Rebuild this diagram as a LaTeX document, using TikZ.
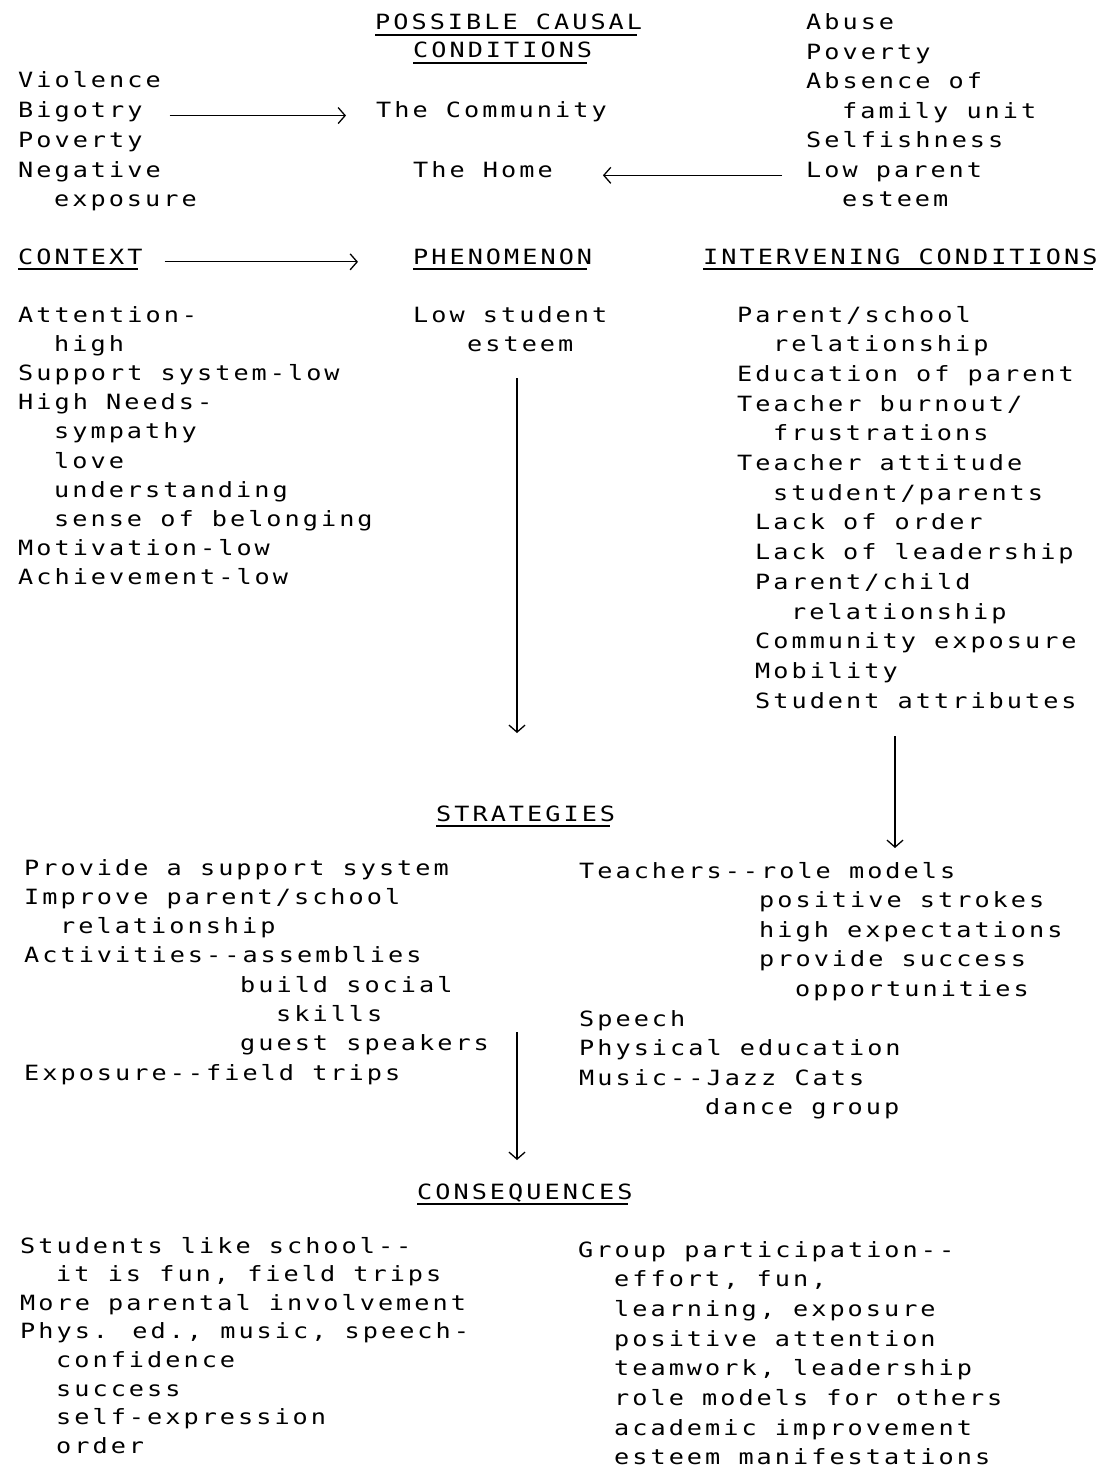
\documentclass[tikz,border=0pt]{standalone}
\usepackage{fontspec}
\newfontfamily\typewriter{DejaVu Sans Mono}[FakeStretch=1.2,LetterSpace=14.4,Ligatures=TeXOff]
\usetikzlibrary{arrows.meta}

\begin{document}
\begin{tikzpicture}[x=1pt,y=-1pt,
    %
    txt/.style={anchor=base west, inner sep=0pt},
    rule/.style={line width=1.1pt},
    flow/.style={-{Straight Barb[length=7pt,width=16pt]}, line width=1.3pt}]
    \tikzstyle{every node}=[font=\typewriter\fontsize{21}{29}\selectfont]
    \useasboundingbox (0,0) rectangle (1102,1479);

    % headings
    \node[txt] (pcc1) at (375,30) {POSSIBLE CAUSAL};
    \node[txt] (pcc2) at (413,58) {CONDITIONS};
    \node[txt] (context) at (18,264) {CONTEXT};
    \node[txt] (phen) at (413,264) {PHENOMENON};
    \node[txt] (interv) at (703,264) {INTERVENING CONDITIONS};
    \node[txt] (strat) at (436,821) {STRATEGIES};
    \node[txt] (conseq) at (417,1199) {CONSEQUENCES};
    \foreach \h in {pcc1,pcc2,context,phen,interv,strat,conseq}
        \draw[rule] ([yshift=-5pt]\h.base west) -- ([xshift=-5pt,yshift=-5pt]\h.base east);

    % possible causal conditions
    \foreach \dx/\t [count=\i from 0] in {0/Violence, 0/Bigotry, 0/Poverty, 0/Negative, 2/exposure}
        \node[txt] (comm\i) at (18+\dx*18, 88+\i*29.7) {\t};
    \node[txt] (community) at (376,117.7) {The Community};
    \node[txt] (home) at (413,177.5) {The Home};
    \foreach \dx/\t [count=\i from 0] in {0/Abuse, 0/Poverty, 0/{Absence of}, 2/{family unit},
            0/Selfishness, 0/{Low parent}, 2/esteem}
        \node[txt] (fam\i) at (806+\dx*18, 30+\i*29.5) {\t};

    % context
    \foreach \dx/\t [count=\i from 0] in {0/Attention-, 2/high, 0/{Support system-low}, 0/{High Needs-},
            2/sympathy, 2/love, 2/understanding, 2/{sense of belonging}, 0/Motivation-low, 0/Achievement-low}
        \node[txt] (ctx\i) at (18+\dx*18, 322+\i*29.2) {\t};

    % phenomenon
    \node[txt] (lowstudent) at (413,322) {Low student};
    \node[txt] (esteem) at (467,351) {esteem};

    % intervening conditions
    \foreach \dx/\t [count=\i from 0] in {0/{Parent/school}, 2/relationship, 0/{Education of parent},
            0/{Teacher burnout/}, 2/frustrations, 0/{Teacher attitude}, 2/{student/parents},
            1/{Lack of order}, 1/{Lack of leadership}, 1/{Parent/child}, 3/relationship,
            1/{Community exposure}, 1/Mobility, 1/{Student attributes}}
        \node[txt] (int\i) at (737+\dx*18, 322+\i*29.7) {\t};

    % strategies
    \foreach \dx/\t [count=\i from 0] in {0/{Provide a support system}, 0/{Improve parent/school},
            2/relationship, 0/{Activities--assemblies}, 12/{build social}, 14/skills,
            12/{guest speakers}, 0/{Exposure--field trips}}
        \node[txt] (sl\i) at (24+\dx*18, 875+\i*29.3) {\t};
    \foreach \dx/\t [count=\i from 0] in {0/{Teachers--role models}, 10/{positive strokes},
            10/{high expectations}, 10/{provide success}, 12/opportunities, 0/Speech,
            0/{Physical education}, 0/{Music--Jazz Cats}, 7/{dance group}}
        \node[txt] (sr\i) at (579+\dx*18, 878+\i*29.6) {\t};

    % consequences
    \foreach \dx/\t [count=\i from 0] in {0/{Students like school--}, 2/{it is fun, field trips},
            0/{More parental involvement}, 0/{Phys. ed., music, speech-}, 2/confidence,
            2/success, 2/self-expression, 2/order}
        \node[txt] (cl\i) at (20+\dx*18, 1253+\i*28.6) {\t};
    \foreach \dx/\t [count=\i from 0] in {0/{Group participation--}, 2/{effort, fun,},
            2/{learning, exposure}, 2/{positive attention}, 2/{teamwork, leadership},
            2/{role models for others}, 2/{academic improvement}, 2/{esteem manifestations}}
        \node[txt] (cr\i) at (578+\dx*18, 1257+\i*29.7) {\t};

    % arrows
    \coordinate (phen-out) at (517,378);
    \coordinate (phen-in) at (517,733);
    \coordinate (int-out) at (895,736);
    \coordinate (int-in) at (895,848);
    \coordinate (strat-out) at (517,1032);
    \coordinate (strat-in) at (517,1160);
    \draw[flow, shorten <=27pt, shorten >=30pt] (comm1.mid east) -- (community.mid west);
    \draw[flow, shorten <=24pt, shorten >=50pt] (fam5.mid west) -- (home.mid east);
    \draw[flow, shorten <=22pt, shorten >=55pt] (context.mid east) -- (phen.mid west);
    \draw[flow] (phen-out) -- (phen-in);
    \draw[flow] (int-out) -- (int-in);
    \draw[flow] (strat-out) -- (strat-in);
\end{tikzpicture}
\end{document}
